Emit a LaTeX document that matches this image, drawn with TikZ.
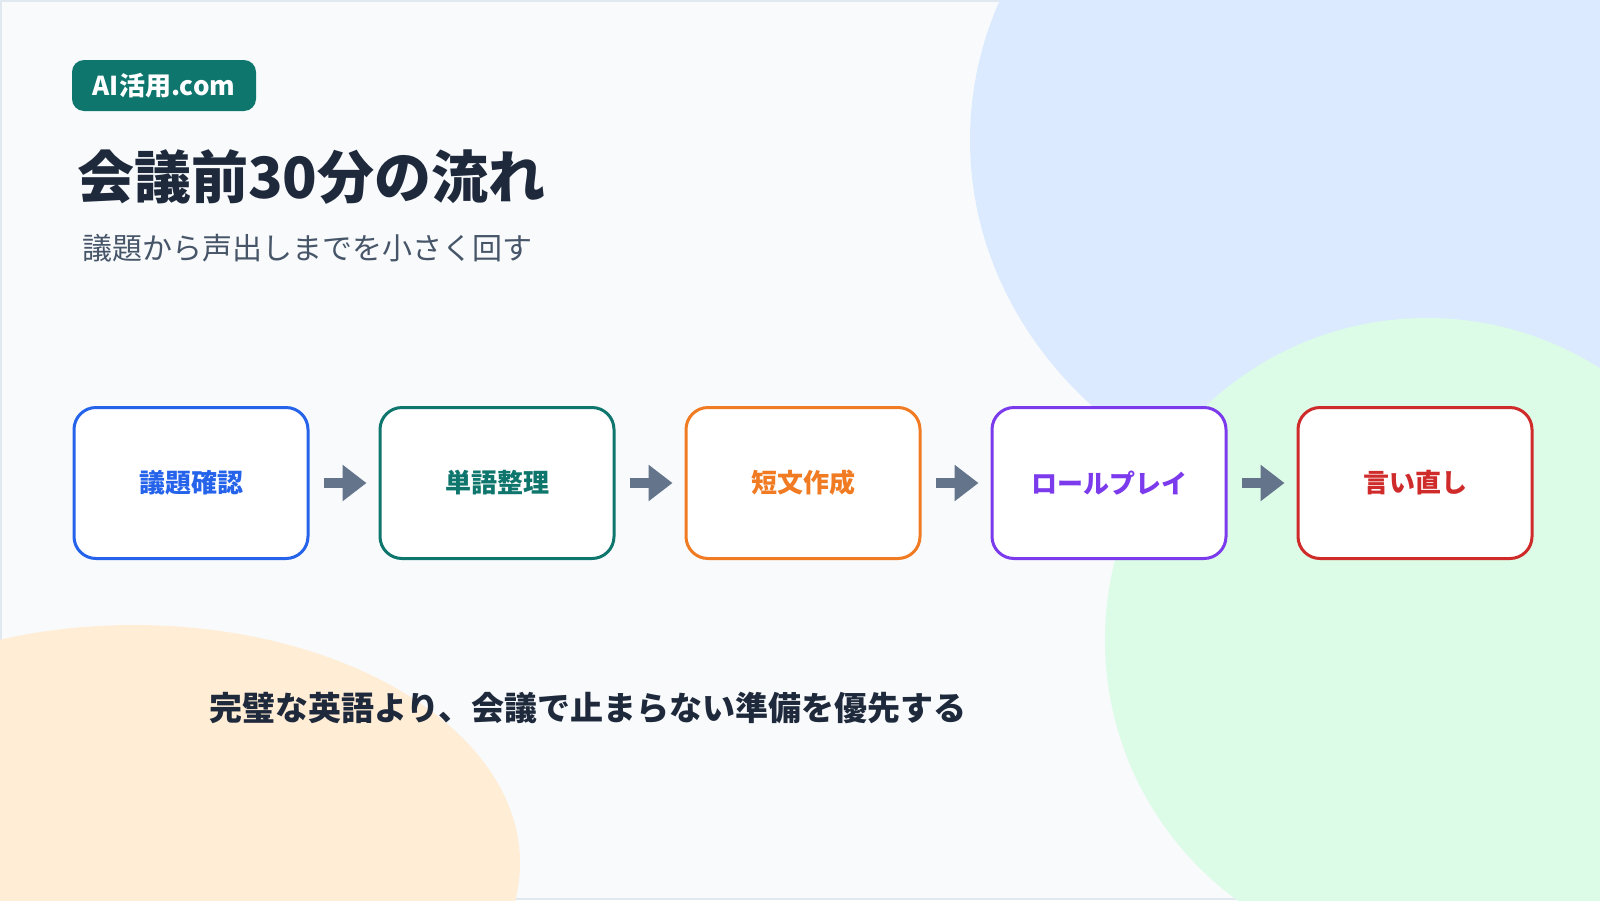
\documentclass[tikz,border=0pt]{standalone}
\usepackage{fontspec}
\setmainfont{Noto Sans CJK JP}
\usetikzlibrary{arrows.meta}
\definecolor{bgc}{HTML}{F8FAFC}
\definecolor{edgec}{HTML}{E2E8F0}
\definecolor{bluebg}{HTML}{DBEAFE}
\definecolor{greenbg}{HTML}{DCFCE7}
\definecolor{peachbg}{HTML}{FFEDD5}
\definecolor{tealc}{HTML}{0F766E}
\definecolor{inkc}{HTML}{1E293B}
\definecolor{subc}{HTML}{475569}
\definecolor{arrc}{HTML}{64748B}
\definecolor{c1}{HTML}{2563EB}
\definecolor{c2}{HTML}{0F766E}
\definecolor{c3}{HTML}{F07B22}
\definecolor{c4}{HTML}{7C3AED}
\definecolor{c5}{HTML}{D02B2B}
\tikzset{
  stepbox/.style={draw, line width=3pt, fill=white, rounded corners=22pt,
    minimum width=234pt, minimum height=151pt, inner sep=0pt,
    font=\fontsize{26}{30}\selectfont\bfseries},
  badge/.style={fill=tealc, rounded corners=12pt, minimum width=184pt,
    minimum height=51pt, inner sep=0pt, text=white,
    font=\fontsize{26}{30}\selectfont\bfseries},
  flowarrow/.style={draw=arrc, line width=10pt,
    -{Triangle[length=24pt,width=35pt]}},
  plaintext/.style={inner sep=0pt, anchor=west}
}
\begin{document}
\begin{tikzpicture}[x=1pt,y=-1pt]
\useasboundingbox (0,0) rectangle (1600,900);
\fill[bgc] (0,0) rectangle (1600,900);
\draw[edgec, line width=2pt] (1,1) rectangle (1599,899);
\begin{scope}
  \clip (0,0) rectangle (1600,900);
  \fill[bluebg] (1400,140) ellipse[x radius=430pt, y radius=381pt];
  \fill[greenbg] (1427,640) circle[radius=322pt];
  \fill[peachbg] (134,863) ellipse[x radius=386pt, y radius=238pt];
\end{scope}

\node[badge] (badge) at (164,85.5) {AI活用.com};
\node[plaintext, text=inkc, font=\fontsize{57}{61}\selectfont\bfseries] (title) at (77,177.5) {会議前30分の流れ};
\node[plaintext, text=subc, font=\fontsize{30}{34}\selectfont] (subtitle) at (82,248.5) {議題から声出しまでを小さく回す};

\node[stepbox, draw=c1, text=c1] (b1) at (191,483) {議題確認};
\node[stepbox, draw=c2, text=c2] (b2) at (497,483) {単語整理};
\node[stepbox, draw=c3, text=c3] (b3) at (803,483) {短文作成};
\node[stepbox, draw=c4, text=c4] (b4) at (1109,483) {ロールプレイ};
\node[stepbox, draw=c5, text=c5] (b5) at (1415,483) {言い直し};

\draw[flowarrow] ([xshift=14pt]b1.east) -- ([xshift=-12pt]b2.west);
\draw[flowarrow] ([xshift=14pt]b2.east) -- ([xshift=-12pt]b3.west);
\draw[flowarrow] ([xshift=14pt]b3.east) -- ([xshift=-12pt]b4.west);
\draw[flowarrow] ([xshift=14pt]b4.east) -- ([xshift=-12pt]b5.west);

\node[inner sep=0pt, text=inkc, font=\fontsize{33}{37}\selectfont\bfseries] (note) at (588,708) {完璧な英語より、会議で止まらない準備を優先する};
\end{tikzpicture}
\end{document}
